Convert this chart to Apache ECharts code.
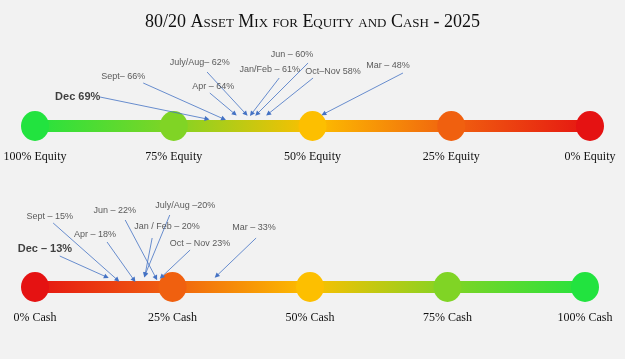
<!DOCTYPE html>
<html><head><meta charset="utf-8">
<script src="https://cdn.jsdelivr.net/npm/echarts@6/dist/echarts.min.js"></script>
<style>html,body{margin:0;padding:0;background:#f2f2f2}#c{width:625px;height:359px}</style>
</head><body><div id="c"></div><script>
// ---- data ----
const titleText = '80/20 Asset Mix for Equity and Cash - 2025';
const equityStops = [100, 75, 50, 25, 0];
const equityTickLabels = ['100% Equity', '75% Equity', '50% Equity', '25% Equity', '0% Equity'];
const cashStops = [0, 25, 50, 75, 100];
const cashTickLabels = ['0% Cash', '25% Cash', '50% Cash', '75% Cash', '100% Cash'];
const equityLabels = ['Dec 69%', 'Sept– 66%', 'July/Aug– 62%', 'Apr – 64%', 'Jun – 60%', 'Jan/Feb – 61%', 'Oct–Nov 58%', 'Mar – 48%'];
const equityValues = [69, 66, 62, 64, 60, 61, 58, 48];
const cashLabels = ['Dec – 13%', 'Sept – 15%', 'Apr – 18%', 'Jun – 22%', 'July/Aug –20%', 'Jan / Feb – 20%', 'Oct – Nov 23%', 'Mar – 33%'];
const cashValues = [13, 15, 18, 22, 20, 20, 23, 33];

// ---- layout (label centre x,y ; arrow tail x,y ; arrow tip y) in axis units ----
const equityLayout = [
  [92.3, 29, 88.3, 29, 7], [84.1, 49, 80.5, 43, 7], [70.3, 63, 69.0, 54, 12], [67.9, 39, 68.5, 33, 12],
  [53.7, 71, 50.8, 63, 12], [57.7, 56, 56.0, 48, 12], [46.3, 54, 49.9, 48, 12], [36.4, 60, 33.7, 53, 12]
];
const cashLayout = [
  [1.8, 38, 4.5, 31, 10], [2.7, 70, 3.3, 64, 7], [10.9, 52, 13.1, 45, 7], [14.5, 76, 16.4, 67, 9],
  [27.3, 81, 24.5, 72, 12], [24.0, 60, 21.3, 49, 12], [30.0, 43, 28.2, 37, 10], [39.8, 59, 40.2, 49, 11]
];
const equityColors = ['#22e33f', '#80d425', '#fdbf00', '#f0600f', '#e51212'];
const cashColors = ['#e51212', '#f0600f', '#fdbf00', '#80d425', '#22e33f'];
const arrowColor = '#4472c4';
const annFont = "'Liberation Sans',sans-serif";

function grad(colors) {
  return { type: 'linear', x: 0, y: 0, x2: 1, y2: 0,
    colorStops: colors.map((c, i) => ({ offset: i / (colors.length - 1), color: c })) };
}

function section(idx, stops, ticks, colors, labels, values, layout) {
  const s = [];
  s.push({
    type: 'line', xAxisIndex: idx, yAxisIndex: idx, z: 2, silent: true, showSymbol: false,
    data: [[stops[0], 0], [stops[stops.length - 1], 0]],
    lineStyle: { width: 12, color: grad(colors) }
  });
  s.push({
    type: 'scatter', xAxisIndex: idx, yAxisIndex: idx, z: 3, silent: true, symbolSize: [28, 30],
    data: stops.map((v, i) => ({ value: [v, 0], itemStyle: { color: colors[i], opacity: 1 } })),
    itemStyle: { opacity: 1 },
    label: { show: true, position: 'bottom', distance: 10, color: '#111',
      fontFamily: "'Liberation Serif',serif", fontSize: 12,
      formatter: p => ticks[p.dataIndex] }
  });
  s.push({
    type: 'lines', coordinateSystem: 'cartesian2d', xAxisIndex: idx, yAxisIndex: idx, z: 4, silent: true,
    symbol: ['none', 'triangle'], symbolSize: 5,
    lineStyle: { color: arrowColor, width: 0.8, opacity: 1 },
    data: values.map((v, i) => ({ coords: [[layout[i][2], layout[i][3]], [v, layout[i][4]]] }))
  });
  s.push({
    type: 'scatter', xAxisIndex: idx, yAxisIndex: idx, z: 5, silent: true, symbolSize: 0,
    data: labels.map((t, i) => ({ value: [layout[i][0], layout[i][1]], name: t,
      label: i === 0 ? { fontWeight: 'bold', fontSize: 11, color: '#111' } : {} })),
    label: { show: true, position: 'inside', color: '#333', fontSize: 9, fontFamily: annFont,
      formatter: p => p.name }
  });
  return s;
}

const chart = echarts.init(document.getElementById('c'));
chart.setOption({
  animation: false,
  backgroundColor: '#f2f2f2',
  title: { text: titleText, left: 'center', top: 8,
    textStyle: { fontFamily: "'Liberation Serif',serif", fontStyle: 'small-caps', fontWeight: 'normal', fontSize: 18, color: '#111' } },
  grid: [
    { left: 35, width: 555, top: 26, height: 100 },
    { left: 35, width: 550, top: 187, height: 100 }
  ],
  xAxis: [
    { type: 'value', gridIndex: 0, min: 0, max: 100, inverse: true, show: false },
    { type: 'value', gridIndex: 1, min: 0, max: 100, show: false }
  ],
  yAxis: [
    { type: 'value', gridIndex: 0, min: 0, max: 100, show: false },
    { type: 'value', gridIndex: 1, min: 0, max: 100, show: false }
  ],
  series: [].concat(
    section(0, equityStops, equityTickLabels, equityColors, equityLabels, equityValues, equityLayout),
    section(1, cashStops, cashTickLabels, cashColors, cashLabels, cashValues, cashLayout)
  )
});
</script></body></html>
